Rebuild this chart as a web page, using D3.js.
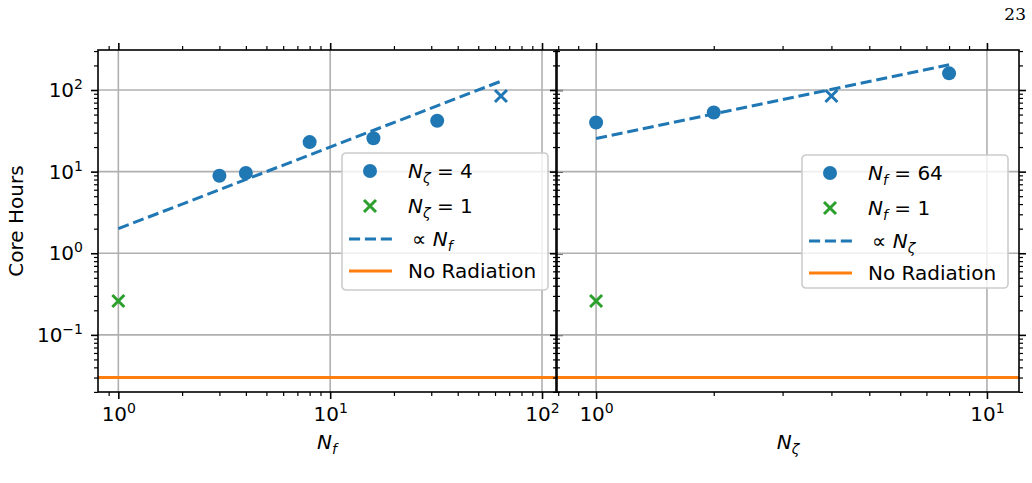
<!DOCTYPE html>
<html>
<head>
<meta charset="utf-8">
<script src="https://cdn.jsdelivr.net/npm/d3@7"></script>
<style>
  body { margin: 0; background: #fff; }
  svg { display: block; font-family: "DejaVu Sans", sans-serif; }
</style>
</head>
<body>
<svg id="chart" width="1032" height="483"></svg>
<script>
// --- data ---
// left panel: scaling in N_f at N_zeta = 4
const nfValues = [3, 4, 8, 16, 32];
const nfHours = [8.9, 9.6, 23, 25.6, 42];
// right panel: scaling in N_zeta at N_f = 64
const nzValues = [1, 2, 8];
const nzHours = [40, 53, 160];
// the shared run (N_f = 64, N_zeta = 4), drawn as a blue cross in both panels
const sharedNf = [64];
const sharedNz = [4];
const sharedHours = [84.5];
// single-core run (N_f = 1, N_zeta = 1)
const singleX = [1];
const singleHours = [0.26];
// reference lines
const nfFitX = [1, 64];
const nfFitY = [2.0, 128];
const nzFitX = [1, 8];
const nzFitY = [25.5, 204];
const noRadHours = [0.03];

const BLUE = "#1f77b4", ORANGE = "#ff7f0e", GREEN = "#2ca02c", GRID = "#b0b0b0";

const svg = d3.select("#chart");
const yTop = 50, yBottom = 392;

const y = d3.scaleLog()
  .domain([Math.pow(10, -1.70), Math.pow(10, 2.49)])
  .range([yBottom, yTop]);

const isMajor = (d) => Math.abs(Math.log10(d) - Math.round(Math.log10(d))) < 1e-9;
const majors = (s) => s.ticks().filter(isMajor);
const minors = (s) => s.ticks().filter((d) => !isMajor(d));

// "10" with a superscript exponent, as matplotlib's log formatter draws it
function powLabel(sel, d) {
  const e = Math.round(Math.log10(d));
  sel.text(null);
  sel.append("tspan").text("10");
  sel.append("tspan").attr("dy", -8).attr("font-size", 14)
    .text(e < 0 ? "\u2212" + (-e) : String(e));
}

// italic math "N" with a subscript, optionally followed by plain text
function mathN(sel, sub, tail, prefix) {
  if (prefix) sel.append("tspan").text(prefix);
  sel.append("tspan").attr("font-style", "italic").text("N");
  sel.append("tspan").attr("font-style", "italic").attr("font-size", 14)
    .attr("dy", 5).text(sub);
  if (tail) sel.append("tspan").attr("dy", -5).text(tail);
}

const panels = [
  {
    x: d3.scaleLog().domain([Math.pow(10, -0.096), Math.pow(10, 2.066)]).range([98, 556]),
    cx: nfValues, cy: nfHours, sx: sharedNf, gx: singleX,
    fitX: nfFitX, fitY: nfFitY, sub: "f", other: "\u03b6",
    legendLabels: ["4", "1"], legendBox: [342, 153, 206, 137],
    yLabels: true
  },
  {
    x: d3.scaleLog().domain([Math.pow(10, -0.1), Math.pow(10, 1.082)]).range([557, 1019]),
    cx: nzValues, cy: nzHours, sx: sharedNz, gx: singleX,
    fitX: nzFitX, fitY: nzFitY, sub: "\u03b6", other: "f",
    legendLabels: ["64", "1"], legendBox: [802, 155, 206, 133],
    yLabels: false
  }
];

panels.forEach((p) => {
  const x = p.x;
  const [x0, x1] = x.range();
  const g = svg.append("g");

  // grid
  g.append("g").selectAll("line").data(majors(x)).join("line")
    .attr("x1", (d) => x(d)).attr("x2", (d) => x(d))
    .attr("y1", yTop).attr("y2", yBottom)
    .attr("stroke", GRID).attr("stroke-width", 1.6);
  g.append("g").selectAll("line").data(majors(y)).join("line")
    .attr("x1", x0).attr("x2", x1)
    .attr("y1", (d) => y(d)).attr("y2", (d) => y(d))
    .attr("stroke", GRID).attr("stroke-width", 1.6);

  // axes: major + minor ticks on all four sides, pointing outwards
  const axes = [
    [d3.axisBottom, `translate(0,${yBottom})`, x, true],
    [d3.axisTop, `translate(0,${yTop})`, x, false],
    [d3.axisLeft, `translate(${x0},0)`, y, p.yLabels],
    [d3.axisRight, `translate(${x1},0)`, y, false]
  ];
  axes.forEach(([make, tr, s, labels]) => {
    const minor = g.append("g").attr("transform", tr)
      .call(make(s).tickValues(minors(s)).tickSize(4).tickFormat(() => ""));
    minor.select(".domain").remove();
    minor.selectAll(".tick line").attr("stroke-width", 1.2);

    const major = g.append("g").attr("transform", tr)
      .call(make(s).tickValues(majors(s)).tickSize(7).tickPadding(8)
        .tickFormat(labels ? (d) => d : () => ""))
      .attr("font-size", 20).attr("font-family", "DejaVu Sans, sans-serif");
    major.select(".domain").remove();
    major.selectAll(".tick line").attr("stroke-width", 1.6);
    if (labels) major.selectAll(".tick text").each(function (d) { powLabel(d3.select(this), d); });
  });

  // no-radiation baseline
  g.append("line")
    .attr("x1", x0).attr("x2", x1)
    .attr("y1", y(noRadHours[0])).attr("y2", y(noRadHours[0]))
    .attr("stroke", ORANGE).attr("stroke-width", 3);

  // proportional reference line
  const line = d3.line().x((d) => x(d[0])).y((d) => y(d[1]));
  g.append("path")
    .attr("d", line(d3.zip(p.fitX, p.fitY)))
    .attr("fill", "none").attr("stroke", BLUE).attr("stroke-width", 3)
    .attr("stroke-dasharray", "11.1 4.8");

  // measured points
  g.append("g").selectAll("circle").data(d3.zip(p.cx, p.cy)).join("circle")
    .attr("cx", (d) => x(d[0])).attr("cy", (d) => y(d[1])).attr("r", 7)
    .attr("fill", BLUE);

  const cross = (sel, color) => sel.append("path")
    .attr("d", "M-6,-6L6,6M-6,6L6,-6")
    .attr("stroke", color).attr("stroke-width", 3).attr("fill", "none");
  g.append("g").selectAll("g").data(d3.zip(p.sx, sharedHours)).join("g")
    .attr("transform", (d) => `translate(${x(d[0])},${y(d[1])})`)
    .each(function () { cross(d3.select(this), BLUE); });
  g.append("g").selectAll("g").data(d3.zip(p.gx, singleHours)).join("g")
    .attr("transform", (d) => `translate(${x(d[0])},${y(d[1])})`)
    .each(function () { cross(d3.select(this), GREEN); });

  // frame
  g.append("rect")
    .attr("x", x0).attr("y", yTop).attr("width", x1 - x0).attr("height", yBottom - yTop)
    .attr("fill", "none").attr("stroke", "#000").attr("stroke-width", 1.6);

  // x label
  const xl = g.append("text")
    .attr("x", (x0 + x1) / 2).attr("y", 449)
    .attr("text-anchor", "middle").attr("font-size", 20);
  mathN(xl, p.sub);

  // legend
  const [lx, ly, lw, lh] = p.legendBox;
  const lg = g.append("g").attr("transform", `translate(${lx},${ly})`);
  lg.append("rect").attr("width", lw).attr("height", lh).attr("rx", 4)
    .attr("fill", "#fff").attr("fill-opacity", 0.8)
    .attr("stroke", "#cccccc").attr("stroke-width", 1.6);
  const rowY = [18, 53, 86, 118];
  lg.append("circle").attr("cx", 28).attr("cy", rowY[0]).attr("r", 7).attr("fill", BLUE);
  lg.append("g").attr("transform", `translate(28,${rowY[1]})`)
    .call((s) => cross(s, GREEN));
  lg.append("line").attr("x1", 7).attr("x2", 50).attr("y1", rowY[2]).attr("y2", rowY[2])
    .attr("stroke", BLUE).attr("stroke-width", 3).attr("stroke-dasharray", "11.1 4.8");
  lg.append("line").attr("x1", 7).attr("x2", 50).attr("y1", rowY[3]).attr("y2", rowY[3])
    .attr("stroke", ORANGE).attr("stroke-width", 3);
  const t0 = lg.append("text").attr("x", 66).attr("y", rowY[0] + 7).attr("font-size", 20);
  mathN(t0, p.other, " = " + p.legendLabels[0]);
  const t1 = lg.append("text").attr("x", 66).attr("y", rowY[1] + 7).attr("font-size", 20);
  mathN(t1, p.other, " = " + p.legendLabels[1]);
  const t2 = lg.append("text").attr("x", 70).attr("y", rowY[2] + 7).attr("font-size", 20);
  mathN(t2, p.sub, null, "\u221d ");
  lg.append("text").attr("x", 66).attr("y", rowY[3] + 7).attr("font-size", 20)
    .text("No Radiation");
});

// y label
svg.append("text")
  .attr("transform", `translate(23,${(yTop + yBottom) / 2}) rotate(-90)`)
  .attr("text-anchor", "middle").attr("font-size", 20)
  .text("Core Hours");

// page number
svg.append("text")
  .attr("x", 1026).attr("y", 20).attr("text-anchor", "end")
  .attr("font-family", "DejaVu Serif, serif").attr("font-size", 17)
  .text("23");
</script>
</body>
</html>
